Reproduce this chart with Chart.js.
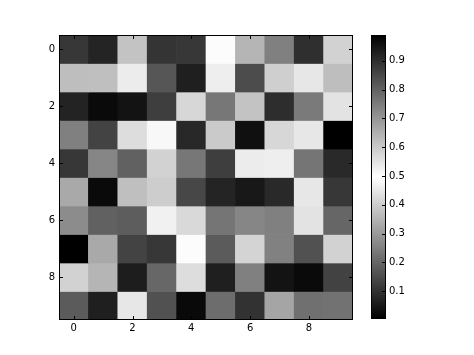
<!DOCTYPE html>
<html>
<head>
<meta charset="utf-8">
<script src="https://cdn.jsdelivr.net/npm/chart.js@4/dist/chart.umd.min.js"></script>
<style>
  html, body { margin: 0; padding: 0; background: #fff; }
  #wrap { position: relative; width: 474px; height: 355px; }
  canvas { position: absolute; left: 0; top: 0; }
</style>
</head>
<body>
<div id="wrap">
  <canvas id="heatChart" width="474" height="355"></canvas>
  <canvas id="barChart" width="474" height="355"></canvas>
</div>
<script>
// rows top to bottom, columns left to right
const rowIndex = [0, 1, 2, 3, 4, 5, 6, 7, 8, 9];
const colIndex = [0, 1, 2, 3, 4, 5, 6, 7, 8, 9];
const row0 = [0.11, 0.92, 0.38, 0.89, 0.11, 0.49, 0.64, 0.25, 0.90, 0.41];
const row1 = [0.37, 0.62, 0.46, 0.17, 0.93, 0.53, 0.15, 0.59, 0.45, 0.37];
const row2 = [0.07, 0.97, 0.04, 0.87, 0.42, 0.76, 0.38, 0.09, 0.24, 0.55];
const row3 = [0.25, 0.86, 0.43, 0.51, 0.08, 0.60, 0.96, 0.42, 0.45, 0.99];
const row4 = [0.11, 0.73, 0.19, 0.41, 0.76, 0.87, 0.46, 0.53, 0.23, 0.91];
const row5 = [0.33, 0.97, 0.62, 0.40, 0.14, 0.92, 0.05, 0.91, 0.45, 0.11];
const row6 = [0.72, 0.19, 0.81, 0.47, 0.57, 0.23, 0.73, 0.25, 0.55, 0.20];
const row7 = [0.003, 0.33, 0.86, 0.11, 0.49, 0.18, 0.58, 0.74, 0.16, 0.41];
const row8 = [0.41, 0.64, 0.06, 0.79, 0.43, 0.93, 0.25, 0.04, 0.97, 0.13];
const row9 = [0.18, 0.93, 0.45, 0.16, 0.02, 0.78, 0.10, 0.67, 0.22, 0.77];
const rows = [row0, row1, row2, row3, row4, row5, row6, row7, row8, row9];

const axisTicks = [0, 2, 4, 6, 8];
const barTicks = [0.1, 0.2, 0.3, 0.4, 0.5, 0.6, 0.7, 0.8, 0.9];

const vmin = Math.min(...rows.flat());
const vmax = Math.max(...rows.flat());

// black -> white -> black
function grayFor(v) {
    const t = (v - vmin) / (vmax - vmin);
    const g = Math.round(255 * (1 - Math.abs(2 * t - 1)));
    return `rgb(${g}, ${g}, ${g})`;
}

const tickFont = { family: "DejaVu Sans", size: 10 };

// matplotlib style ticks pointing into the plot, on every side
const inwardTicks = {
    id: "inwardTicks",
    afterDraw(chart, args, opts) {
        const ctx = chart.ctx;
        const area = chart.chartArea;
        ctx.save();
        ctx.strokeStyle = "#000";
        ctx.lineWidth = 1;
        ctx.beginPath();
        const len = 4;
        if (opts.x) {
            const xs = chart.scales.x;
            xs.ticks.forEach((t) => {
                const px = Math.round(xs.getPixelForValue(t.value)) + 0.5;
                ctx.moveTo(px, area.bottom);
                ctx.lineTo(px, area.bottom - len);
                ctx.moveTo(px, area.top);
                ctx.lineTo(px, area.top + len);
            });
        }
        const ys = chart.scales.y;
        ys.ticks.forEach((t) => {
            const py = Math.round(ys.getPixelForValue(t.value)) + 0.5;
            ctx.moveTo(area.right, py);
            ctx.lineTo(area.right - len, py);
            if (opts.x) {
                ctx.moveTo(area.left, py);
                ctx.lineTo(area.left + len, py);
            }
        });
        ctx.stroke();
        ctx.strokeRect(
            Math.round(area.left) + 0.5,
            Math.round(area.top) + 0.5,
            Math.round(area.right - area.left) - 1,
            Math.round(area.bottom - area.top) - 1
        );
        ctx.restore();
    },
};

function createHeatChart() {
    const heatChart = document.getElementById("heatChart");

    const datasets = rows.map((row, i) => ({
        label: "row " + rowIndex[i],
        data: row.map((v, j) => ({
            x: colIndex[j],
            y: [rowIndex[i] - 0.5, rowIndex[i] + 0.5],
        })),
        backgroundColor: row.map((v) => grayFor(v)),
        borderWidth: 0,
        barPercentage: 1,
        categoryPercentage: 1,
        grouped: false,
    }));

    new Chart(heatChart, {
        type: "bar",
        data: { datasets: datasets },
        plugins: [inwardTicks],
        options: {
            responsive: false,
            animation: false,
            layout: { padding: { left: 0, right: 121, top: 35, bottom: 0 } },
            plugins: {
                legend: { display: false },
                tooltip: { enabled: false },
                inwardTicks: { x: true },
            },
            scales: {
                x: {
                    type: "linear",
                    min: -0.5,
                    max: 9.5,
                    offset: false,
                    grid: { display: false, drawTicks: false },
                    border: { display: false },
                    afterBuildTicks: (s) => {
                        s.ticks = axisTicks.map((v) => ({ value: v }));
                    },
                    afterFit: (s) => {
                        s.height = 35;
                    },
                    ticks: { color: "#000", font: tickFont, padding: 2, maxRotation: 0 },
                },
                y: {
                    type: "linear",
                    reverse: true,
                    min: -0.5,
                    max: 9.5,
                    grid: { display: false, drawTicks: false },
                    border: { display: false },
                    afterBuildTicks: (s) => {
                        s.ticks = axisTicks.map((v) => ({ value: v }));
                    },
                    afterFit: (s) => {
                        s.width = 59;
                    },
                    ticks: { color: "#000", font: tickFont, padding: 4 },
                },
            },
        },
    });
}

function createColorBar() {
    const barChart = document.getElementById("barChart");

    new Chart(barChart, {
        type: "bar",
        data: {
            labels: [""],
            datasets: [
                {
                    data: [[vmin, vmax]],
                    borderWidth: 0,
                    barPercentage: 1,
                    categoryPercentage: 1,
                    backgroundColor: (context) => {
                        const chart = context.chart;
                        const area = chart.chartArea;
                        if (!area) return "#888";
                        const g = chart.ctx.createLinearGradient(0, area.bottom, 0, area.top);
                        g.addColorStop(0, "#000");
                        g.addColorStop(0.5, "#fff");
                        g.addColorStop(1, "#000");
                        return g;
                    },
                },
            ],
        },
        plugins: [inwardTicks],
        options: {
            responsive: false,
            animation: false,
            layout: { padding: { left: 371, right: 0, top: 35, bottom: 36 } },
            plugins: {
                legend: { display: false },
                tooltip: { enabled: false },
                inwardTicks: { x: false },
            },
            scales: {
                x: { display: false },
                y: {
                    type: "linear",
                    position: "right",
                    min: vmin,
                    max: vmax,
                    grid: { display: false, drawTicks: false },
                    border: { display: false },
                    afterBuildTicks: (s) => {
                        s.ticks = barTicks.map((v) => ({ value: v }));
                    },
                    afterFit: (s) => {
                        s.width = 88;
                    },
                    ticks: {
                        color: "#000",
                        font: tickFont,
                        padding: 3,
                        callback: (v) => v.toFixed(1),
                    },
                },
            },
        },
    });
}

document.addEventListener("DOMContentLoaded", function () {
    createHeatChart();
    createColorBar();
});
</script>
</body>
</html>
